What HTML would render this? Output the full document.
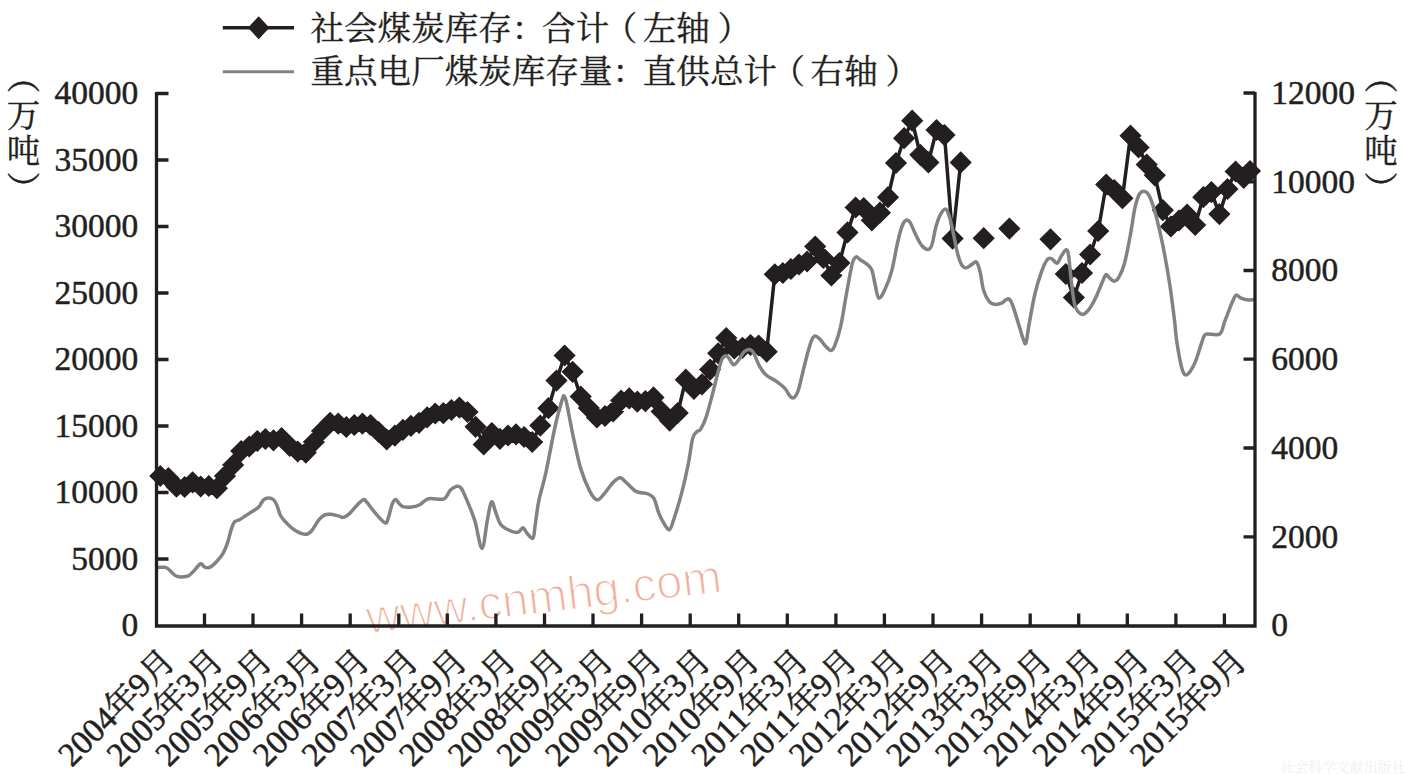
<!DOCTYPE html>
<html lang="zh"><head><meta charset="utf-8"><title>社会煤炭库存与重点电厂煤炭库存量</title>
<style>
html,body{margin:0;padding:0;background:#fff}
body{width:1405px;height:774px;overflow:hidden;font-family:"Liberation Serif",serif}
svg{display:block}
</style></head><body>
<svg width="1405" height="774" viewBox="0 0 1405 774">
<g transform="translate(368 633.5) rotate(-6.7)"><text x="0" y="0" font-family="Liberation Sans, sans-serif" font-size="47.3" fill="#f5ae9b" stroke="#fff" stroke-width="1.5">www.cnmhg.com</text></g>
<path d="M160.3 476L168.4 478L176.5 486.7L184.6 487L192.6 482.3L200.7 486.5L208.8 486L216.9 488.2L225 476L233.1 465L241.2 451L249.2 446.5L257.3 441L265.4 439L273.5 440.3L281.6 438L289.7 446L297.7 451.5L305.8 452.6L313.9 442L322 431L330.1 422.8L338.2 423.6L346.3 427L354.3 425L362.4 423.6L370.5 425L378.6 432L386.7 439.5L394.8 435.7L402.9 429.8L410.9 425.9L419 422.8L427.1 417.4L435.2 413.5L443.3 413.2L451.4 410L459.4 407.6L467.5 412L475.6 426.8L483.7 444.5L491.8 433L499.9 438.8L508 435.5L516 434.4L524.1 437L532.2 442L540.3 425.6L548.4 408.2L556.5 380.6L564.6 355.5L572.6 371.8L580.7 396.6L588.8 408L596.9 417.5L605 416L613.1 411.5L621.1 400.6L629.2 398.4L637.3 401.7L645.4 401.2L653.5 397.4L661.6 411.5L669.7 420.6L677.7 413L685.8 379.7L693.9 388.8L702 384.3L710.1 369.6L718.2 353.3L726.2 338L734.3 348.5L742.4 347.8L750.5 345L758.6 345.5L766.7 351.7L774.8 274.3L782.8 273L790.9 269L799 264.5L807.1 261.5L815.2 246.5L823.3 258L831.4 275.5L839.4 263L847.5 232.4L855.6 207.5L863.7 208L871.8 220.3L879.9 212.7L888 197.2L896 163L904.1 138.2L912.2 120.7L920.3 154.8L928.4 162.4L936.5 130L944.5 135.1L952.6 238.6L960.7 162.4M1065.8 274L1073.9 297.5L1082 273L1090.1 254.5L1098.2 231L1106.2 184.5L1114.3 190L1122.4 198.2L1130.5 135.7L1138.6 147.5L1146.7 164.5L1154.8 175.3L1162.8 210.2L1170.9 226.5L1179 220.5L1187.1 214.6L1195.2 225L1203.3 197.2L1211.4 192.1L1219.4 214.1L1227.5 189L1235.6 171.5L1243.7 177.8L1250 171" fill="none" stroke="#231f20" stroke-width="3.5" stroke-linejoin="round"/>
<path d="M149.2 476L160.3 464.9L171.4 476L160.3 487.1ZM157.3 478L168.4 466.9L179.5 478L168.4 489.1ZM165.4 486.7L176.5 475.6L187.6 486.7L176.5 497.8ZM173.5 487L184.6 475.9L195.7 487L184.6 498.1ZM181.5 482.3L192.6 471.2L203.7 482.3L192.6 493.4ZM189.6 486.5L200.7 475.4L211.8 486.5L200.7 497.6ZM197.7 486L208.8 474.9L219.9 486L208.8 497.1ZM205.8 488.2L216.9 477.1L228 488.2L216.9 499.3ZM213.9 476L225 464.9L236.1 476L225 487.1ZM222 465L233.1 453.9L244.2 465L233.1 476.1ZM230.1 451L241.2 439.9L252.3 451L241.2 462.1ZM238.1 446.5L249.2 435.4L260.3 446.5L249.2 457.6ZM246.2 441L257.3 429.9L268.4 441L257.3 452.1ZM254.3 439L265.4 427.9L276.5 439L265.4 450.1ZM262.4 440.3L273.5 429.2L284.6 440.3L273.5 451.4ZM270.5 438L281.6 426.9L292.7 438L281.6 449.1ZM278.6 446L289.7 434.9L300.8 446L289.7 457.1ZM286.6 451.5L297.7 440.4L308.8 451.5L297.7 462.6ZM294.7 452.6L305.8 441.5L316.9 452.6L305.8 463.7ZM302.8 442L313.9 430.9L325 442L313.9 453.1ZM310.9 431L322 419.9L333.1 431L322 442.1ZM319 422.8L330.1 411.7L341.2 422.8L330.1 433.9ZM327.1 423.6L338.2 412.5L349.3 423.6L338.2 434.7ZM335.2 427L346.3 415.9L357.4 427L346.3 438.1ZM343.2 425L354.3 413.9L365.4 425L354.3 436.1ZM351.3 423.6L362.4 412.5L373.5 423.6L362.4 434.7ZM359.4 425L370.5 413.9L381.6 425L370.5 436.1ZM367.5 432L378.6 420.9L389.7 432L378.6 443.1ZM375.6 439.5L386.7 428.4L397.8 439.5L386.7 450.6ZM383.7 435.7L394.8 424.6L405.9 435.7L394.8 446.8ZM391.8 429.8L402.9 418.7L414 429.8L402.9 440.9ZM399.8 425.9L410.9 414.8L422 425.9L410.9 437ZM407.9 422.8L419 411.7L430.1 422.8L419 433.9ZM416 417.4L427.1 406.3L438.2 417.4L427.1 428.5ZM424.1 413.5L435.2 402.4L446.3 413.5L435.2 424.6ZM432.2 413.2L443.3 402.1L454.4 413.2L443.3 424.3ZM440.3 410L451.4 398.9L462.5 410L451.4 421.1ZM448.3 407.6L459.4 396.5L470.5 407.6L459.4 418.7ZM456.4 412L467.5 400.9L478.6 412L467.5 423.1ZM464.5 426.8L475.6 415.7L486.7 426.8L475.6 437.9ZM472.6 444.5L483.7 433.4L494.8 444.5L483.7 455.6ZM480.7 433L491.8 421.9L502.9 433L491.8 444.1ZM488.8 438.8L499.9 427.7L511 438.8L499.9 449.9ZM496.9 435.5L508 424.4L519.1 435.5L508 446.6ZM504.9 434.4L516 423.3L527.1 434.4L516 445.5ZM513 437L524.1 425.9L535.2 437L524.1 448.1ZM521.1 442L532.2 430.9L543.3 442L532.2 453.1ZM529.2 425.6L540.3 414.5L551.4 425.6L540.3 436.7ZM537.3 408.2L548.4 397.1L559.5 408.2L548.4 419.3ZM545.4 380.6L556.5 369.5L567.6 380.6L556.5 391.7ZM553.5 355.5L564.6 344.4L575.7 355.5L564.6 366.6ZM561.5 371.8L572.6 360.7L583.7 371.8L572.6 382.9ZM569.6 396.6L580.7 385.5L591.8 396.6L580.7 407.7ZM577.7 408L588.8 396.9L599.9 408L588.8 419.1ZM585.8 417.5L596.9 406.4L608 417.5L596.9 428.6ZM593.9 416L605 404.9L616.1 416L605 427.1ZM602 411.5L613.1 400.4L624.2 411.5L613.1 422.6ZM610 400.6L621.1 389.5L632.2 400.6L621.1 411.7ZM618.1 398.4L629.2 387.3L640.3 398.4L629.2 409.5ZM626.2 401.7L637.3 390.6L648.4 401.7L637.3 412.8ZM634.3 401.2L645.4 390.1L656.5 401.2L645.4 412.3ZM642.4 397.4L653.5 386.3L664.6 397.4L653.5 408.5ZM650.5 411.5L661.6 400.4L672.7 411.5L661.6 422.6ZM658.6 420.6L669.7 409.5L680.8 420.6L669.7 431.7ZM666.6 413L677.7 401.9L688.8 413L677.7 424.1ZM674.7 379.7L685.8 368.6L696.9 379.7L685.8 390.8ZM682.8 388.8L693.9 377.7L705 388.8L693.9 399.9ZM690.9 384.3L702 373.2L713.1 384.3L702 395.4ZM699 369.6L710.1 358.5L721.2 369.6L710.1 380.7ZM707.1 353.3L718.2 342.2L729.3 353.3L718.2 364.4ZM715.1 338L726.2 326.9L737.4 338L726.2 349.1ZM723.2 348.5L734.3 337.4L745.4 348.5L734.3 359.6ZM731.3 347.8L742.4 336.7L753.5 347.8L742.4 358.9ZM739.4 345L750.5 333.9L761.6 345L750.5 356.1ZM747.5 345.5L758.6 334.4L769.7 345.5L758.6 356.6ZM755.6 351.7L766.7 340.6L777.8 351.7L766.7 362.8ZM763.7 274.3L774.8 263.2L785.9 274.3L774.8 285.4ZM771.7 273L782.8 261.9L793.9 273L782.8 284.1ZM779.8 269L790.9 257.9L802 269L790.9 280.1ZM787.9 264.5L799 253.4L810.1 264.5L799 275.6ZM796 261.5L807.1 250.4L818.2 261.5L807.1 272.6ZM804.1 246.5L815.2 235.4L826.3 246.5L815.2 257.6ZM812.2 258L823.3 246.9L834.4 258L823.3 269.1ZM820.3 275.5L831.4 264.4L842.5 275.5L831.4 286.6ZM828.3 263L839.4 251.9L850.5 263L839.4 274.1ZM836.4 232.4L847.5 221.3L858.6 232.4L847.5 243.5ZM844.5 207.5L855.6 196.4L866.7 207.5L855.6 218.6ZM852.6 208L863.7 196.9L874.8 208L863.7 219.1ZM860.7 220.3L871.8 209.2L882.9 220.3L871.8 231.4ZM868.8 212.7L879.9 201.6L891 212.7L879.9 223.8ZM876.9 197.2L888 186.1L899.1 197.2L888 208.3ZM884.9 163L896 151.9L907.1 163L896 174.1ZM893 138.2L904.1 127.1L915.2 138.2L904.1 149.3ZM901.1 120.7L912.2 109.6L923.3 120.7L912.2 131.8ZM909.2 154.8L920.3 143.7L931.4 154.8L920.3 165.9ZM917.3 162.4L928.4 151.3L939.5 162.4L928.4 173.5ZM925.4 130L936.5 118.9L947.6 130L936.5 141.1ZM933.4 135.1L944.5 124L955.6 135.1L944.5 146.2ZM941.5 238.6L952.6 227.5L963.7 238.6L952.6 249.7ZM949.6 162.4L960.7 151.3L971.8 162.4L960.7 173.5ZM972.6 238.2L983.7 227.1L994.8 238.2L983.7 249.3ZM998.3 228.6L1009.4 217.5L1020.5 228.6L1009.4 239.7ZM1039.4 239.3L1050.5 228.2L1061.6 239.3L1050.5 250.4ZM1054.7 274L1065.8 262.9L1076.9 274L1065.8 285.1ZM1062.8 297.5L1073.9 286.4L1085 297.5L1073.9 308.6ZM1070.9 273L1082 261.9L1093.1 273L1082 284.1ZM1079 254.5L1090.1 243.4L1101.2 254.5L1090.1 265.6ZM1087.1 231L1098.2 219.9L1109.3 231L1098.2 242.1ZM1095.1 184.5L1106.2 173.4L1117.3 184.5L1106.2 195.6ZM1103.2 190L1114.3 178.9L1125.4 190L1114.3 201.1ZM1111.3 198.2L1122.4 187.1L1133.5 198.2L1122.4 209.3ZM1119.4 135.7L1130.5 124.6L1141.6 135.7L1130.5 146.8ZM1127.5 147.5L1138.6 136.4L1149.7 147.5L1138.6 158.6ZM1135.6 164.5L1146.7 153.4L1157.8 164.5L1146.7 175.6ZM1143.7 175.3L1154.8 164.2L1165.9 175.3L1154.8 186.4ZM1151.7 210.2L1162.8 199.1L1173.9 210.2L1162.8 221.3ZM1159.8 226.5L1170.9 215.4L1182 226.5L1170.9 237.6ZM1167.9 220.5L1179 209.4L1190.1 220.5L1179 231.6ZM1176 214.6L1187.1 203.5L1198.2 214.6L1187.1 225.7ZM1184.1 225L1195.2 213.9L1206.3 225L1195.2 236.1ZM1192.2 197.2L1203.3 186.1L1214.4 197.2L1203.3 208.3ZM1200.3 192.1L1211.4 181L1222.5 192.1L1211.4 203.2ZM1208.3 214.1L1219.4 203L1230.5 214.1L1219.4 225.2ZM1216.4 189L1227.5 177.9L1238.6 189L1227.5 200.1ZM1224.5 171.5L1235.6 160.4L1246.7 171.5L1235.6 182.6ZM1232.6 177.8L1243.7 166.7L1254.8 177.8L1243.7 188.9ZM1238.9 171L1250 159.9L1261.1 171L1250 182.1Z" fill="#231f20"/>
<path d="M157.8 567.4C159.1 567.4 163.4 566.8 165.5 567.4C167.6 568 168.4 569.3 170.2 570.8C172 572.3 173.6 575.3 176.4 576.2C179.2 577.1 184.5 576.9 187.2 576.2C189.9 575.6 190.4 574.4 192.6 572.3C194.8 570.2 198.4 564.7 200.4 563.8C202.4 562.9 202.8 566.3 204.3 566.9C205.9 567.5 207.6 568.3 209.7 567.4C211.8 566.5 214.5 563.8 216.7 561.5C218.9 559.2 221.1 556.8 222.9 553.7C224.7 550.6 226.1 547 227.5 542.9C228.9 538.8 230.2 532.4 231.4 528.9C232.6 525.4 233.1 523.4 234.5 521.9C235.9 520.4 237.5 521 239.9 519.6C242.3 518.2 246.1 515.5 249.2 513.4C252.3 511.3 256.2 509.4 258.5 507.2C260.8 505 261.6 501.8 263.2 500.2C264.8 498.6 266.1 498 267.8 497.9C269.5 497.8 271.8 498.2 273.3 499.5C274.9 500.8 276 503.1 277.1 505.7C278.2 508.3 278.9 512.4 280.2 515C281.5 517.6 282.6 518.8 284.9 521.2C287.2 523.7 290.8 527.5 294.2 529.7C297.6 531.9 302.2 534 305 534.3C307.8 534.5 308.9 533.7 311.2 531.2C313.5 528.8 316.8 522.3 319 519.6C321.2 516.9 322.7 515.7 324.7 514.8C326.7 513.9 328.6 514.1 330.9 514.3C333.2 514.5 336.5 515.4 338.6 515.9C340.7 516.4 341.5 517.8 343.3 517.4C345.1 517 347.2 515.7 349.5 513.6C351.8 511.5 354.9 507.3 357.2 505C359.5 502.7 361.8 500.1 363.4 499.6C364.9 499.1 364.4 499.6 366.5 501.9C368.6 504.2 372.7 510.1 375.8 513.6C378.9 517.1 383 522.1 385.1 522.9C387.2 523.7 387 521.3 388.2 518.2C389.4 515.1 390.9 507.4 392.1 504.3C393.4 501.2 394.5 499.7 395.7 499.6C396.9 499.5 397.9 502.3 399.1 503.5C400.3 504.7 400.8 506 402.9 506.6C405 507.2 408.8 507.4 411.5 507.1C414.2 506.8 416.4 506.4 419.2 505C422 503.6 424.4 499.8 428.5 498.8C432.6 497.8 440.4 500.2 444 498.8C447.6 497.4 448.1 492.4 450.2 490.3C452.3 488.2 454.6 486.8 456.4 486.4C458.2 486 459.3 485.5 461.1 488C462.9 490.5 465 495.6 467.3 501.2C469.6 506.8 472.6 513.4 475 521.3C477.4 529.2 479.9 548.6 482 548.4C484.1 548.1 485.8 527.5 487.4 519.8C489 512 490.1 503.1 491.5 501.9C492.9 500.7 494.3 508.9 495.8 512.6C497.3 516.3 498.4 521.3 500.5 524.2C502.6 527.1 505.7 528.6 508.6 530C511.5 531.4 515.5 532.7 517.9 532.3C520.3 531.9 521.5 527.5 523 527.7C524.5 527.9 525.5 531.8 527.2 533.5C528.9 535.2 531.6 539.6 533 538.1C534.4 536.6 534.3 530.4 535.3 524.2C536.3 518 537 509.4 538.8 500.9C540.5 492.4 543.1 485.4 545.8 473C548.5 460.6 552.4 438.7 555.1 426.5C557.8 414.3 560.6 404.8 562.1 399.8C563.6 394.8 563.6 395.7 564.4 396.3C565.2 396.9 565.3 397.1 566.7 403.3C568.1 409.5 570.3 422.6 572.6 433.5C574.9 444.4 577.8 458.7 580.7 468.4C583.6 478.1 587.3 486.4 590 491.6C592.7 496.8 594.7 499.4 597 499.8C599.3 500.2 601.3 496.9 604 494C606.7 491.1 610.6 485 613.3 482.3C616 479.6 617.9 477.5 620.2 477.7C622.5 477.9 624.5 481.2 627.2 483.5C629.9 485.8 633 489.9 636.5 491.6C640 493.4 645.2 492.8 648.1 494C651 495.2 652.2 495.5 654 498.6C655.8 501.7 656.9 508.3 658.6 512.6C660.3 516.9 662.6 521.4 664.4 524.2C666.2 527 668 530.3 669.5 529.6C671 528.9 671.6 526.1 673.6 520C675.6 513.9 679.2 502.4 681.7 492.9C684.2 483.4 686.7 472.1 688.5 463C690.3 453.9 691.2 443.8 692.6 438.6C694 433.4 695.4 433.4 696.7 431.8C698.1 430.2 699.1 431.6 700.7 429.1C702.3 426.6 704.2 423 706.2 416.9C708.2 410.8 710.9 400.2 712.9 392.5C714.9 384.8 716.8 376.4 718.4 370.7C720 365 721 361 722.4 358.5C723.8 356 725.2 355.6 726.5 355.8C727.8 356 728.8 358.4 730 359.9C731.2 361.4 732.4 364.8 733.9 364.8C735.4 364.8 737 362.1 738.7 359.9C740.4 357.7 742.4 353.4 744.2 351.7C746 350 748 349.3 749.6 349.5C751.2 349.7 752.1 350.5 753.7 353.1C755.3 355.7 757.1 361.7 759.1 365.3C761.1 368.9 763 372.1 765.9 374.8C768.8 377.5 773.6 379.3 776.8 381.6C780 383.9 782.6 385.9 784.9 388.4C787.1 390.9 788.7 395 790.3 396.5C791.9 398 793 398.4 794.4 397.3C795.8 396.2 797.1 393.7 798.5 389.7C799.9 385.7 800.9 379.7 802.5 373.4C804.1 367.1 806.4 357.3 808 351.7C809.6 346.1 810.8 342.1 812 339.5C813.2 336.9 813.9 336 815.3 336C816.7 336 818.5 337.8 820.2 339.5C821.9 341.2 823.8 344.5 825.6 346.3C827.4 348.1 829.5 350.5 831 350.4C832.5 350.3 833.1 349.7 834.7 345.8C836.3 341.9 838.6 335.7 840.5 327.2C842.4 318.7 844.4 305.2 846.3 294.7C848.2 284.2 850.5 270.7 852.1 264.4C853.7 258.1 854.6 257.8 856 257C857.4 256.2 858.3 258.6 860.2 259.8C862.1 261 865.2 262.7 867.2 264.4C869.2 266.1 870.5 266.7 871.9 270.2C873.2 273.7 874.1 280.6 875.3 285.3C876.4 290 877.2 297.3 878.8 298.1C880.4 298.9 882.6 294.4 884.7 290C886.8 285.6 889.5 279.1 891.6 271.4C893.7 263.6 895.6 251.1 897.4 243.5C899.1 235.9 900.6 229.9 902.1 226C903.6 222.1 904.9 220.8 906.3 220.2C907.6 219.6 908.6 220.1 910.2 222.6C911.8 225.1 914 231.4 916 235.3C918 239.2 919.8 243.5 921.9 245.8C924 248.1 927.1 249.7 928.8 249.3C930.5 248.9 931.1 247.2 932.3 243.5C933.5 239.8 934.4 232 935.8 227.2C937.2 222.3 938.8 217.4 940.5 214.4C942.2 211.4 944.2 208.5 945.8 209.1C947.3 209.7 948.5 213.9 949.8 217.9C951 221.9 952 227.2 953.3 233C954.6 238.8 956 247.6 957.4 252.8C958.8 258 960 261.9 961.4 264.4C962.8 266.9 964.2 267.9 966 267.9C967.8 267.9 970.1 265.4 971.9 264.4C973.6 263.4 975.1 260.9 976.5 262.1C977.9 263.3 978.8 266.8 980 271.4C981.2 276 982 285 983.5 290C985 295 987.4 299.2 989.3 301.6C991.2 304 993 304.2 995.1 304.4C997.2 304.6 1000.3 303.6 1002.1 302.8C1003.9 302 1004.6 300.4 1005.8 299.8C1007 299.2 1008.1 298.1 1009.3 299.1C1010.5 300.1 1011.2 301.4 1012.8 305.6C1014.3 309.8 1016.9 318.6 1018.6 324.2C1020.4 329.8 1022.1 336.2 1023.3 339.3C1024.5 342.4 1025 345.3 1026 342.8C1027 340.3 1027.6 332.3 1029.1 324.2C1030.6 316.1 1032.8 302.9 1034.9 294C1037 285.1 1039.8 276.5 1041.9 270.7C1044 264.9 1046 261 1047.7 259.1C1049.4 257.2 1050.8 258.4 1052.3 259.1C1053.8 259.8 1055.5 263.9 1057 263.3C1058.5 262.7 1060 257.9 1061.6 255.6C1063.1 253.3 1065.1 249.8 1066.3 249.8C1067.5 249.8 1067.8 250.9 1068.6 255.6C1069.4 260.2 1069.9 269.8 1070.9 277.7C1071.9 285.6 1073.2 297.7 1074.4 303.3C1075.6 308.9 1076.5 309.5 1077.9 311.4C1079.3 313.2 1080.8 314.6 1082.6 314.4C1084.3 314.2 1086.3 312.8 1088.4 310.2C1090.5 307.6 1093.2 302.9 1095.3 298.6C1097.4 294.4 1099.5 288.6 1101.2 284.7C1103 280.8 1104.5 276.1 1105.8 274.9C1107.1 273.7 1107.9 276.6 1109.3 277.7C1110.7 278.8 1112.5 281.2 1114 281.2C1115.5 281.2 1116.9 280.6 1118.6 277.7C1120.3 274.8 1122.5 270.7 1124.4 263.7C1126.3 256.7 1128.5 245.1 1130.2 235.8C1132 226.5 1133.4 214.9 1134.9 207.9C1136.5 200.9 1137.8 196.7 1139.5 194C1141.2 191.3 1143.5 191 1145.3 191.6C1147 192.2 1148.2 193.5 1150 197.4C1151.8 201.3 1153.7 207 1155.8 214.9C1157.9 222.8 1160.5 233.5 1162.8 245.1C1165.1 256.7 1167.9 272.3 1169.8 284.7C1171.7 297.1 1173.2 310.1 1174.4 319.5C1175.6 328.9 1175.5 333.1 1176.7 340.9C1177.9 348.7 1180 360.9 1181.4 366.5C1182.8 372.1 1183.6 373.7 1184.9 374.7C1186.2 375.7 1187.8 374.4 1189.5 372.3C1191.2 370.2 1193.5 366 1195.3 361.9C1197 357.8 1198.5 352.2 1200 347.9C1201.5 343.6 1202.8 338.6 1204 336.3C1205.2 334 1204.4 334.4 1207 334C1209.6 333.6 1216.9 335.9 1219.8 334C1222.7 332.1 1222.7 326.8 1224.4 322.3C1226.1 317.8 1228.6 311.3 1230.2 307.2C1231.8 303.1 1233.2 299.9 1234.2 297.9C1235.2 295.8 1235.4 294.9 1236.5 294.9C1237.6 294.9 1239 297.1 1240.7 297.9C1242.4 298.7 1244.4 299.5 1246.5 299.8C1248.6 300.1 1252.3 299.8 1253.5 299.8" fill="none" stroke="#808285" stroke-width="3.5" stroke-linejoin="round" stroke-linecap="round"/>
<path d="M156.5 92.0V626.0H1255.0V92.0M156.5 93.5H168.5M156.5 160H168.5M156.5 226.5H168.5M156.5 293H168.5M156.5 359.5H168.5M156.5 426H168.5M156.5 492.5H168.5M156.5 559H168.5M1255.0 93H1243.5M1255.0 181.8H1243.5M1255.0 270.5H1243.5M1255.0 359.2H1243.5M1255.0 448H1243.5M1255.0 536.8H1243.5M204.5 626.0V613.5M253 626.0V613.5M301.6 626.0V613.5M350.2 626.0V613.5M398.8 626.0V613.5M447.3 626.0V613.5M495.9 626.0V613.5M544.5 626.0V613.5M593 626.0V613.5M641.6 626.0V613.5M690.2 626.0V613.5M738.7 626.0V613.5M787.3 626.0V613.5M835.9 626.0V613.5M884.4 626.0V613.5M933 626.0V613.5M981.6 626.0V613.5M1030.2 626.0V613.5M1078.7 626.0V613.5M1127.3 626.0V613.5M1175.9 626.0V613.5M1224.4 626.0V613.5" fill="none" stroke="#231f20" stroke-width="3.3" stroke-linejoin="miter"/>
<g font-family="Liberation Serif, serif" font-size="33.5" fill="#231f20" stroke="#231f20" stroke-width="0.5" text-anchor="end">
<text x="138.2" y="104.3">40000</text>
<text x="138.2" y="170.8">35000</text>
<text x="138.2" y="237.3">30000</text>
<text x="138.2" y="303.8">25000</text>
<text x="138.2" y="370.3">20000</text>
<text x="138.2" y="436.8">15000</text>
<text x="138.2" y="503.3">10000</text>
<text x="138.2" y="569.8">5000</text>
<text x="138.2" y="636.3">0</text>
</g>
<g font-family="Liberation Serif, serif" font-size="33.5" fill="#231f20" stroke="#231f20" stroke-width="0.5">
<text x="1271.2" y="103.8">12000</text>
<text x="1271.2" y="192.6">10000</text>
<text x="1271.2" y="281.3">8000</text>
<text x="1271.2" y="370.1">6000</text>
<text x="1271.2" y="458.8">4000</text>
<text x="1271.2" y="547.5">2000</text>
<text x="1271.2" y="636.3">0</text>
</g>
<g fill="#231f20" stroke="#231f20" stroke-width="0.35" font-family="'Liberation Serif', 'Noto Serif CJK SC', serif" font-size="33.5" text-anchor="middle"><text x="23.6" y="89.2">︵</text><text x="23.6" y="126.9">万</text><text x="23.6" y="162.5">吨</text><text x="23.6" y="200.9">︶</text></g>
<g fill="#231f20" stroke="#231f20" stroke-width="0.35" font-family="'Liberation Serif', 'Noto Serif CJK SC', serif" font-size="33.5" text-anchor="middle"><text x="1381" y="89.2">︵</text><text x="1381" y="126.9">万</text><text x="1381" y="162.5">吨</text><text x="1381" y="200.9">︶</text></g>
<path d="M222.8 27.7H294" stroke="#231f20" stroke-width="3.5" fill="none"/>
<path d="M248 27.7L258.7 16.2L269.4 27.7L258.7 39.2Z" fill="#231f20"/>
<path d="M222.8 71.7H294" stroke="#808285" stroke-width="3" fill="none"/>
<g fill="#231f20" stroke="#231f20" stroke-width="0.35" font-family="'Liberation Serif', 'Noto Serif CJK SC', serif" font-size="33.5"><text y="39.5" x="310.50 344.06 377.62 411.18 444.74 478.30 511.86 542.12 575.68 603.74 642.80 676.36 717.62">社会煤炭库存：合计（左轴）</text></g>
<g fill="#231f20" stroke="#231f20" stroke-width="0.35" font-family="'Liberation Serif', 'Noto Serif CJK SC', serif" font-size="33.5"><text y="83" x="310.50 344.06 377.62 411.18 444.74 478.30 511.86 545.42 578.98 612.54 642.80 676.36 709.92 743.48 771.54 810.60 844.16 885.42">重点电厂煤炭库存量：直供总计（右轴）</text></g>
<g font-family="'Liberation Serif', 'Noto Serif CJK SC', serif" font-size="33.5" fill="#231f20" stroke="#231f20" stroke-width="0.5">
<g transform="translate(176.0 662.0) rotate(-45)"><text x="-148.75" y="1.2">2004<tspan x="-82.45">年</tspan><tspan x="-50.25">9</tspan><tspan x="-33.5">月</tspan></text></g>
<g transform="translate(224.7 662.0) rotate(-45)"><text x="-148.75" y="1.2">2005<tspan x="-82.45">年</tspan><tspan x="-50.25">3</tspan><tspan x="-33.5">月</tspan></text></g>
<g transform="translate(273.4 662.0) rotate(-45)"><text x="-148.75" y="1.2">2005<tspan x="-82.45">年</tspan><tspan x="-50.25">9</tspan><tspan x="-33.5">月</tspan></text></g>
<g transform="translate(322.2 662.0) rotate(-45)"><text x="-148.75" y="1.2">2006<tspan x="-82.45">年</tspan><tspan x="-50.25">3</tspan><tspan x="-33.5">月</tspan></text></g>
<g transform="translate(370.9 662.0) rotate(-45)"><text x="-148.75" y="1.2">2006<tspan x="-82.45">年</tspan><tspan x="-50.25">9</tspan><tspan x="-33.5">月</tspan></text></g>
<g transform="translate(419.6 662.0) rotate(-45)"><text x="-148.75" y="1.2">2007<tspan x="-82.45">年</tspan><tspan x="-50.25">3</tspan><tspan x="-33.5">月</tspan></text></g>
<g transform="translate(468.3 662.0) rotate(-45)"><text x="-148.75" y="1.2">2007<tspan x="-82.45">年</tspan><tspan x="-50.25">9</tspan><tspan x="-33.5">月</tspan></text></g>
<g transform="translate(517.0 662.0) rotate(-45)"><text x="-148.75" y="1.2">2008<tspan x="-82.45">年</tspan><tspan x="-50.25">3</tspan><tspan x="-33.5">月</tspan></text></g>
<g transform="translate(565.8 662.0) rotate(-45)"><text x="-148.75" y="1.2">2008<tspan x="-82.45">年</tspan><tspan x="-50.25">9</tspan><tspan x="-33.5">月</tspan></text></g>
<g transform="translate(614.5 662.0) rotate(-45)"><text x="-148.75" y="1.2">2009<tspan x="-82.45">年</tspan><tspan x="-50.25">3</tspan><tspan x="-33.5">月</tspan></text></g>
<g transform="translate(663.2 662.0) rotate(-45)"><text x="-148.75" y="1.2">2009<tspan x="-82.45">年</tspan><tspan x="-50.25">9</tspan><tspan x="-33.5">月</tspan></text></g>
<g transform="translate(711.9 662.0) rotate(-45)"><text x="-148.75" y="1.2">2010<tspan x="-82.45">年</tspan><tspan x="-50.25">3</tspan><tspan x="-33.5">月</tspan></text></g>
<g transform="translate(760.6 662.0) rotate(-45)"><text x="-148.75" y="1.2">2010<tspan x="-82.45">年</tspan><tspan x="-50.25">9</tspan><tspan x="-33.5">月</tspan></text></g>
<g transform="translate(809.4 662.0) rotate(-45)"><text x="-148.75" y="1.2">2011<tspan x="-82.45">年</tspan><tspan x="-50.25">3</tspan><tspan x="-33.5">月</tspan></text></g>
<g transform="translate(858.1 662.0) rotate(-45)"><text x="-148.75" y="1.2">2011<tspan x="-82.45">年</tspan><tspan x="-50.25">9</tspan><tspan x="-33.5">月</tspan></text></g>
<g transform="translate(906.8 662.0) rotate(-45)"><text x="-148.75" y="1.2">2012<tspan x="-82.45">年</tspan><tspan x="-50.25">3</tspan><tspan x="-33.5">月</tspan></text></g>
<g transform="translate(955.5 662.0) rotate(-45)"><text x="-148.75" y="1.2">2012<tspan x="-82.45">年</tspan><tspan x="-50.25">9</tspan><tspan x="-33.5">月</tspan></text></g>
<g transform="translate(1004.2 662.0) rotate(-45)"><text x="-148.75" y="1.2">2013<tspan x="-82.45">年</tspan><tspan x="-50.25">3</tspan><tspan x="-33.5">月</tspan></text></g>
<g transform="translate(1053.0 662.0) rotate(-45)"><text x="-148.75" y="1.2">2013<tspan x="-82.45">年</tspan><tspan x="-50.25">9</tspan><tspan x="-33.5">月</tspan></text></g>
<g transform="translate(1101.7 662.0) rotate(-45)"><text x="-148.75" y="1.2">2014<tspan x="-82.45">年</tspan><tspan x="-50.25">3</tspan><tspan x="-33.5">月</tspan></text></g>
<g transform="translate(1150.4 662.0) rotate(-45)"><text x="-148.75" y="1.2">2014<tspan x="-82.45">年</tspan><tspan x="-50.25">9</tspan><tspan x="-33.5">月</tspan></text></g>
<g transform="translate(1199.1 662.0) rotate(-45)"><text x="-148.75" y="1.2">2015<tspan x="-82.45">年</tspan><tspan x="-50.25">3</tspan><tspan x="-33.5">月</tspan></text></g>
<g transform="translate(1247.8 662.0) rotate(-45)"><text x="-148.75" y="1.2">2015<tspan x="-82.45">年</tspan><tspan x="-50.25">9</tspan><tspan x="-33.5">月</tspan></text></g>
</g>
<g fill="#efefef" font-family="'Liberation Serif', 'Noto Serif CJK SC', serif" font-size="13.9"><text x="1280.5" y="771.7">社会科学文献出版社</text></g>
</svg>
</body></html>
